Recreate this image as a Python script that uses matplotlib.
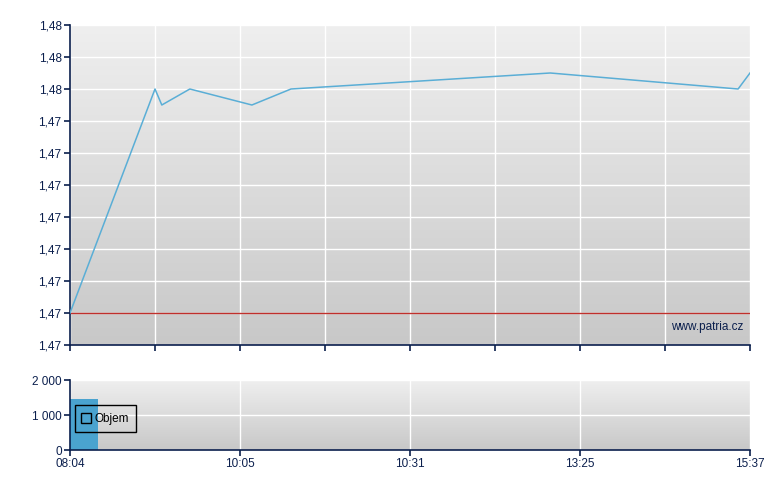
import matplotlib.pyplot as plt
import numpy as np
from matplotlib.colors import LinearSegmentedColormap
from matplotlib.lines import Line2D
from matplotlib.ticker import FixedLocator, FixedFormatter

plt.rcParams['font.family'] = ['Liberation Sans', 'DejaVu Sans']

# cena - osa x je poradi (ne linearni cas)
pos = [0.0, 1.0, 1.08, 1.41, 2.14, 2.6, 5.65, 7.86, 8.0]
price = [1.4700, 1.4770, 1.4765, 1.4770, 1.4765, 1.4770, 1.4775, 1.4770, 1.4775]
ref_price = 1.4700

y_ticks = [1.469, 1.470, 1.471, 1.472, 1.473, 1.474, 1.475, 1.476, 1.477, 1.478, 1.479]
y_labels = ['1,47', '1,47', '1,47', '1,47', '1,47', '1,47', '1,47', '1,47', '1,48', '1,48', '1,48']

x_ticks = [0, 1, 2, 3, 4, 5, 6, 7, 8]
vol_x_ticks = [0, 2, 4, 6, 8]
vol_x_labels = ['08:04', '10:05', '10:31', '13:25', '15:37']

# objem
vol_pos = [0.0]
vol = [1460]
vol_width = 0.33
vol_ticks = [0, 1000, 2000]
vol_labels = ['0', '1 000', '2 000']

navy = '#0b1f4d'
grad = LinearSegmentedColormap.from_list('g', ['#efefef', '#c8c8c8'])

fig = plt.figure(figsize=(7.8, 4.9), dpi=100)
ax = fig.add_axes([70/780, 145/490, 680/780, 320/490])
ax2 = fig.add_axes([70/780, 40/490, 680/780, 70/490])


def style(a):
    # sedy prechod v pozadi
    a.imshow(np.linspace(0, 1, 256).reshape(-1, 1), cmap=grad, aspect='auto',
             extent=[0, 1, 0, 1], transform=a.transAxes, zorder=0)
    for s in ['top', 'right']:
        a.spines[s].set_visible(False)
    for s in ['left', 'bottom']:
        a.spines[s].set_color(navy)
        a.spines[s].set_linewidth(1.2)
    a.tick_params(colors=navy, direction='out', length=4, width=1.2, labelsize=8.5, pad=2)
    a.grid(True, color='white', linewidth=1)
    a.set_axisbelow(True)
    a.set_xlim(0, 8)


# cena
style(ax)
ax.xaxis.set_major_locator(FixedLocator(x_ticks))
ax.set_ylim(y_ticks[0], y_ticks[-1])
ax.yaxis.set_major_locator(FixedLocator(y_ticks))
ax.yaxis.set_major_formatter(FixedFormatter(y_labels))
ax.set_xticklabels([])
ax.axhline(ref_price, color='#c0302c', linewidth=1, zorder=2)
ax.plot(pos, price, color='#5aaed6', linewidth=1.1, zorder=3)
ax.text(0.99, 0.055, 'www.patria.cz', transform=ax.transAxes, ha='right', va='center',
        color=navy, fontsize=8.5)

# objem
style(ax2)
ax2.xaxis.set_major_locator(FixedLocator(vol_x_ticks))
ax2.xaxis.set_major_formatter(FixedFormatter(vol_x_labels))
ax2.set_ylim(0, 2000)
ax2.yaxis.set_major_locator(FixedLocator(vol_ticks))
ax2.yaxis.set_major_formatter(FixedFormatter(vol_labels))
ax2.bar(vol_pos, vol, width=vol_width, align='edge', color='#4aa3cf', zorder=2)

h = Line2D([], [], marker='s', linestyle='none', markersize=6.5, markerfacecolor='none',
           markeredgecolor='black', markeredgewidth=1)
leg = ax2.legend([h], ['Objem'], loc='upper left', bbox_to_anchor=(0.007, 0.643),
                 borderaxespad=0, fancybox=False, facecolor='none', edgecolor='black',
                 fontsize=8.5, handlelength=0.6, handletextpad=0.4, borderpad=0.65)
leg.get_frame().set_linewidth(1)
leg.get_frame().set_alpha(None)

fig.savefig('out.png', dpi=100)
